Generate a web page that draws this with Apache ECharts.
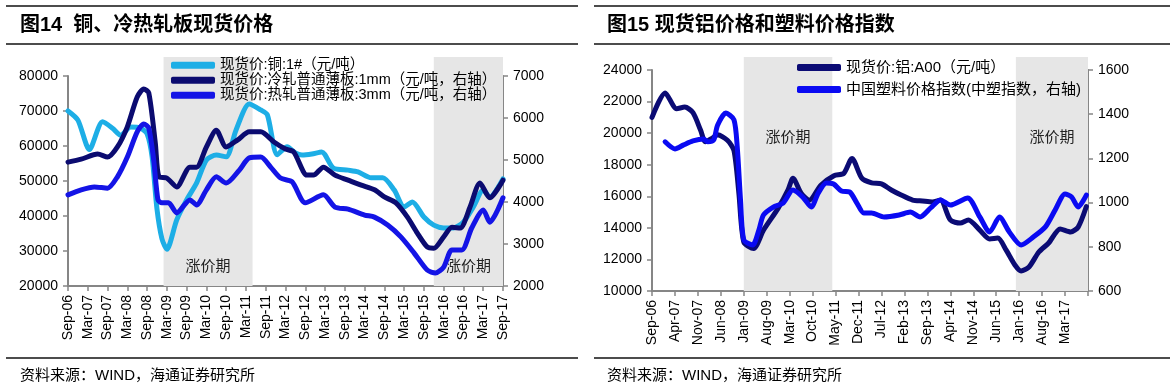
<!DOCTYPE html>
<html><head><meta charset="utf-8">
<script src="https://cdn.jsdelivr.net/npm/echarts@6/dist/echarts.min.js"></script>
<style>html,body{margin:0;padding:0;background:#fff;}#c{width:1173px;height:391px;}</style>
</head><body><div id="c"></div>
<script>
// ---------- Chart 1 (图14) ----------
const ticks1 = ['Sep-06','Mar-07','Sep-07','Mar-08','Sep-08','Mar-09','Sep-09','Mar-10','Sep-10','Mar-11','Sep-11','Mar-12','Sep-12','Mar-13','Sep-13','Mar-14','Sep-14','Mar-15','Sep-15','Mar-16','Sep-16','Mar-17','Sep-17'];
// month index counted from Sep-06 = 0
const copperMonth = [0,3,6.5,10.5,13.5,16,19,22,24,25.5,27,28.5,30,33,36,39,42,45,48,51,55,58.5,60.5,63.5,66.5,69,71,74,77,80.5,85,88,92,95.5,99,102,104.5,108,111,114,117,120,123,126,128,132];
const copperValue = [70000,67400,59000,66900,65100,63100,65400,65100,63500,57000,42000,33500,30500,38900,44600,49400,56000,57400,56900,64600,72000,70300,68900,57500,59800,58000,57400,57700,58300,53700,53100,52600,50900,50900,47400,42600,44000,39700,37400,36600,36600,38300,42600,47400,45400,50600];
const coldMonth = [0,4,9,12,15,18,21,23,24.5,26.5,27.6,30,33,37,39,42,45,48,51.5,55,58.5,62.5,66,68.5,72.5,74.5,77.5,81,85,89,93,96,99.5,103,106,109,111,114,116.5,119,122,125,128,132];
const coldValue = [4950,5020,5140,5070,5310,5790,6500,6690,6600,5400,4600,4570,4360,4830,4830,5310,5710,5310,5480,5670,5670,5430,5260,5190,4640,4640,4830,4640,4520,4400,4290,4120,3980,3640,3260,2930,2900,3170,3400,3380,3880,4450,4100,4520];
const hotMonth = [0,4,8,12,15,18,21,23,24.5,26,27.3,28.5,30.5,33,37,39,42,45,48,52,55,58.5,61.5,64.5,68,72,77.5,81,85,90,93,97,101,105,109,111.5,114,116.5,119.5,122.5,126,128,132];
const hotValue = [4170,4290,4360,4330,4600,5070,5670,5860,5760,5000,4050,3980,3980,3740,4050,3930,4290,4600,4450,4760,5050,5070,4830,4570,4480,3980,4170,3880,3830,3690,3640,3450,3170,2790,2380,2310,2450,2860,2860,3380,3810,3520,4100];
const shade1 = [[29,56],[111,132]];

// ---------- Chart 2 (图15) ----------
const ticks2 = ['Sep-06','Apr-07','Nov-07','Jun-08','Jan-09','Aug-09','Mar-10','Oct-10','May-11','Dec-11','Jul-12','Feb-13','Sep-13','Apr-14','Nov-14','Jun-15','Jan-16','Aug-16','Mar-17'];
const aluMonth = [0,4,7.5,10,12.5,14.8,16.3,18.5,20,23,25,26.5,28,31,34,38.5,41.5,43,45.5,48,51.5,55.5,58.5,61,64,67,70,73,76,79.5,82.5,85.5,88,91,94,96.5,100,103,105.5,108,110.7,112.6,115,118,121,124.5,127.7,130,132.5];
const aluValue = [21000,22550,21550,21650,21300,20200,19450,19700,19900,19550,18900,16200,13100,12700,13850,15250,16400,17150,16200,15750,16700,17300,17450,18400,17150,16850,16780,16400,16080,15760,15700,15640,15760,14500,14300,14500,13860,13300,13350,12600,11650,11270,11520,12470,13040,13930,13740,14050,15350];
const plasMonth = [4,7,9.5,12.5,15.7,17,18.8,20,22.5,25,26,27,28,30.7,32.6,34,37,40,43,46,48.6,50.7,53.2,55.4,57.8,60.3,62.5,64.6,67,70.8,75.4,78.8,81.8,85,88,91,96.3,100,103,106,109,112.6,116.3,120,123,126,128,130,132.5];
const plasValue = [1275,1243,1260,1279,1288,1275,1283,1350,1405,1375,1252,1012,831,808,876,944,980,998,1057,1025,980,1043,1089,1084,1052,1048,998,953,953,935,944,957,935,976,1012,989,1021,935,867,935,867,808,844,890,967,1039,1025,980,1034];
const shade2 = [[28,55],[111,133]];

const names = ['现货价:铜:1#（元/吨）','现货价:冷轧普通薄板:1mm（元/吨，右轴）','现货价:热轧普通薄板:3mm（元/吨，右轴）','现货价:铝:A00（元/吨）','中国塑料价格指数(中塑指数，右轴)'];
const shadeLabel = '涨价期';

const FONT = '"Liberation Sans","Noto Sans CJK SC",sans-serif';
const zip = (a, b) => a.map((m, i) => [m, b[i]]);
const axisGray = '#868686';

function xAx(grid, max, interval, ticks) {
  return {
    type: 'value', gridIndex: grid, min: 0, max: max, interval: interval,
    axisLine: { show: true, lineStyle: { color: axisGray, width: 2 } },
    axisTick: { show: true, length: 5, lineStyle: { color: axisGray, width: 1.5 } },
    splitLine: { show: false },
    axisLabel: { rotate: 90, margin: 9, fontSize: 14, color: '#000', fontFamily: FONT,
      formatter: v => ticks[Math.round(v / interval)] || '' }
  };
}
function hiddenX(grid, max) { return { type: 'value', gridIndex: grid, min: 0, max: max, show: false }; }
function yAx(grid, pos, min, max, interval) {
  return {
    type: 'value', gridIndex: grid, position: pos, min: min, max: max, interval: interval,
    axisLine: { show: true, lineStyle: { color: axisGray, width: 2 } },
    axisTick: { show: true, length: 5, lineStyle: { color: axisGray, width: 1.5 } },
    splitLine: { show: false },
    axisLabel: { margin: 10, fontSize: 14, color: '#000', fontFamily: FONT, formatter: v => String(v) }
  };
}
function hiddenY(grid) { return { type: 'value', gridIndex: grid, min: 0, max: 1, show: false }; }
function line(name, xi, yi, data, color) {
  return { name: name, type: 'line', xAxisIndex: xi, yAxisIndex: yi, data: data, z: 3,
    smooth: 0.25, showSymbol: false, symbol: 'none',
    lineStyle: { color: color, width: 5, cap: 'round', join: 'round' }, itemStyle: { color: color } };
}
function shadeSeries(xi, yi, ranges, pos, dist) {
  return { type: 'line', xAxisIndex: xi, yAxisIndex: yi, data: [[0, -5]], z: 1, silent: true,
    showSymbol: false, lineStyle: { opacity: 0 },
    markArea: { silent: true, itemStyle: { color: '#E6E6E6' },
      label: { show: true, position: pos, distance: dist, fontSize: 15, color: '#222', fontFamily: '"Noto Sans CJK SC",sans-serif' },
      data: ranges.map(r => [{ xAxis: r[0], name: shadeLabel }, { xAxis: r[1] }]) } };
}

const c1 = '#1DAEE6', c2 = '#0B0B70', c3 = '#1414E6', c4 = '#0B0B74', c5 = '#0A0AF2';

const option = {
  animation: false,
  backgroundColor: '#fff',
  title: [
    { text: '图14  铜、冷热轧板现货价格', left: 20, top: 15, padding: 0, textStyle: { fontSize: 20, fontWeight: 'bold', color: '#000', fontFamily: FONT } },
    { text: '图15 现货铝价格和塑料价格指数', left: 607, top: 15, padding: 0, textStyle: { fontSize: 20, fontWeight: 'bold', color: '#000', fontFamily: FONT } },
    { text: '资料来源：WIND，海通证券研究所', left: 20, top: 368, padding: 0, textStyle: { fontSize: 15, fontWeight: 'normal', color: '#000', fontFamily: FONT } },
    { text: '资料来源：WIND，海通证券研究所', left: 607, top: 368, padding: 0, textStyle: { fontSize: 15, fontWeight: 'normal', color: '#000', fontFamily: FONT } }
  ],
  graphic: [
    { type: 'line', shape: { x1: 6, y1: 6, x2: 578, y2: 6 }, style: { stroke: '#111', lineWidth: 1.5 } },
    { type: 'line', shape: { x1: 6, y1: 44, x2: 578, y2: 44 }, style: { stroke: '#111', lineWidth: 1.5 } },
    { type: 'line', shape: { x1: 6, y1: 358, x2: 578, y2: 358 }, style: { stroke: '#111', lineWidth: 1.5 } },
    { type: 'line', shape: { x1: 594, y1: 6, x2: 1170, y2: 6 }, style: { stroke: '#111', lineWidth: 1.5 } },
    { type: 'line', shape: { x1: 594, y1: 44, x2: 1170, y2: 44 }, style: { stroke: '#111', lineWidth: 1.5 } },
    { type: 'line', shape: { x1: 594, y1: 358, x2: 1170, y2: 358 }, style: { stroke: '#111', lineWidth: 1.5 } }
  ],
  legend: [
    { data: names.slice(0, 3), orient: 'vertical', left: 166, top: 53, itemWidth: 44, itemHeight: 7, itemGap: 0.5, icon: 'roundRect',
      textStyle: { fontSize: 14.5, color: '#000', fontFamily: FONT }, selectedMode: false },
    { data: names.slice(3), orient: 'vertical', left: 792, top: 55, itemWidth: 44, itemHeight: 7, itemGap: 7, icon: 'roundRect',
      textStyle: { fontSize: 15, color: '#000', fontFamily: FONT }, selectedMode: false }
  ],
  grid: [
    { left: 68, right: 670, top: 76, bottom: 105 },
    { left: 68, right: 670, top: 57, bottom: 105 },
    { left: 652, right: 85, top: 70, bottom: 100 },
    { left: 652, right: 85, top: 57, bottom: 100 }
  ],
  xAxis: [ xAx(0, 132, 6, ticks1), hiddenX(1, 132), xAx(2, 133, 7, ticks2), hiddenX(3, 133) ],
  yAxis: [
    yAx(0, 'left', 20000, 80000, 10000),
    yAx(0, 'right', 2000, 7000, 1000),
    hiddenY(1),
    yAx(2, 'left', 10000, 24000, 2000),
    yAx(2, 'right', 600, 1600, 200),
    hiddenY(3)
  ],
  series: [
    shadeSeries(1, 2, shade1, 'insideBottom', 13),
    shadeSeries(3, 5, shade2, 'insideTop', 72),
    line(names[0], 0, 0, zip(copperMonth, copperValue), c1),
    line(names[1], 0, 1, zip(coldMonth, coldValue), c2),
    line(names[2], 0, 1, zip(hotMonth, hotValue), c3),
    line(names[3], 2, 3, zip(aluMonth, aluValue), c4),
    line(names[4], 2, 4, zip(plasMonth, plasValue), c5)
  ]
};
const chart = echarts.init(document.getElementById('c'), null, { renderer: 'canvas' });
chart.setOption(option);
</script>
</body></html>
